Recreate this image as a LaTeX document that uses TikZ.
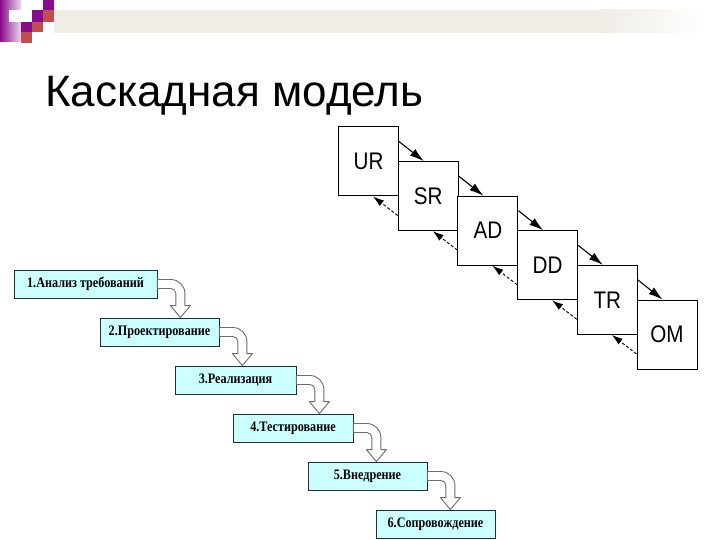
\documentclass[tikz,border=0pt]{standalone}
\usepackage{fontspec}
\setmainfont{Liberation Serif}
\newfontfamily\arialf{Liberation Sans}
\newfontfamily\esaf[FakeStretch=0.86]{Liberation Sans}
\newfontfamily\stagef[FakeStretch=0.84]{Liberation Serif}
\usetikzlibrary{calc,arrows.meta}
\definecolor{boxcyan}{HTML}{CCFFFF}
\definecolor{boxedge}{HTML}{1F2F33}
\definecolor{decopurple}{HTML}{8B0A8B}
\definecolor{decored}{HTML}{C0504D}
\definecolor{bandgray}{HTML}{EFEDE6}
\tikzset{
  stage/.style={draw=boxedge, fill=boxcyan, line width=0.8pt, minimum height=28pt, inner sep=0pt, font=\stagef\fontsize{14.5}{16}\selectfont\bfseries},
  esabox/.style={draw=black, fill=white, line width=1pt, minimum width=60pt, minimum height=69pt, inner sep=0pt, font=\esaf\fontsize{24}{26}\selectfont},
  bendarrow/.style={draw=gray!85!black, fill=white, line width=0.9pt, line join=round},
  fwd/.style={draw=black, line width=1.1pt, -{Latex[length=14pt,width=8.5pt]}},
  bwd/.style={draw=black, line width=0.9pt, dash pattern=on 3pt off 2pt, -{Latex[length=11pt,width=7pt]}},
}
\newcommand{\bendarr}[2]{%
  \draw[bendarrow] let \p1=(#1.east), \p2=(#2.north) in
   (\x1,\y1+4.5pt) -- (\x1+13.5pt,\y1+4.5pt)
   .. controls (\x1+21.2pt,\y1+4.5pt) and (\x1+27.5pt,\y1-1.8pt) .. (\x1+27.5pt,\y1-9.5pt)
   -- (\x1+27.5pt,\y2+12pt) -- (\x1+33pt,\y2+12pt) -- (\x1+23pt,\y2)
   -- (\x1+13pt,\y2+12pt) -- (\x1+18.5pt,\y2+12pt) -- (\x1+18.5pt,\y1-9.5pt)
   .. controls (\x1+18.5pt,\y1-6.74pt) and (\x1+16.26pt,\y1-4.5pt) .. (\x1+13.5pt,\y1-4.5pt)
   -- (\x1,\y1-4.5pt) -- cycle;}
\begin{document}
\begin{tikzpicture}[x=1pt,y=-1pt]
\useasboundingbox (0,0) rectangle (720,540);
\fill[white] (0,0) rectangle (720,540);
% header band and decoration
\fill[bandgray] (54,10) rectangle (600,33);
\shade[left color=bandgray, right color=white] (600,10) rectangle (705,33);
\shade[left color=decopurple, right color=decopurple!15!white] (0,0) rectangle (21,42);
\fill[white!92!bandgray] (9,10) rectangle (21,22);
\fill[decopurple] (43,0) rectangle (54,10);
\fill[decored] (43,10) rectangle (54,22);
\fill[decopurple] (32,10) rectangle (43,22);
\fill[decopurple] (21,22) rectangle (32,32);
\fill[decored] (32,22) rectangle (43,32);
\fill[decored] (21,32) rectangle (32,43);
% title
\node[anchor=base west, inner sep=0pt, font=\arialf\fontsize{44}{48}\selectfont] (title) at (45,107) {Каскадная модель};
% ESA style boxes
\node[esabox] (UR) at (368.5,161.5) {UR};
\node[esabox] (SR) at (428.2,196.1) {SR};
\node[esabox] (AD) at (487.9,230.7) {AD};
\node[esabox] (DD) at (547.6,265.3) {DD};
\node[esabox] (TR) at (607.3,299.9) {TR};
\node[esabox] (OM) at (667.0,334.5) {OM};
\foreach \a/\b in {UR/SR,SR/AD,AD/DD,DD/TR,TR/OM}{
  \draw[fwd] ($(\a.north east)+(0,15)$) -- ($(\b.north west)+(26,0)$);
  \draw[bwd] ($(\b.west |- \a.south)+(0,19)$) -- ($(\a.south east)+(-26,0)$);
}
% waterfall stages
\node[stage, minimum width=143pt] (s1) at (85.5,284) {1.Анализ требований};
\node[stage, minimum width=119pt] (s2) at (159.5,332) {2.Проектирование};
\node[stage, minimum width=121pt] (s3) at (235.5,380) {3.Реализация};
\node[stage, minimum width=120pt] (s4) at (293,428) {4.Тестирование};
\node[stage, minimum width=119pt] (s5) at (367.5,476) {5.Внедрение};
\node[stage, minimum width=119pt] (s6) at (435.5,524) {6.Сопровождение};
\bendarr{s1}{s2}
\bendarr{s2}{s3}
\bendarr{s3}{s4}
\bendarr{s4}{s5}
\bendarr{s5}{s6}
\end{tikzpicture}
\end{document}
